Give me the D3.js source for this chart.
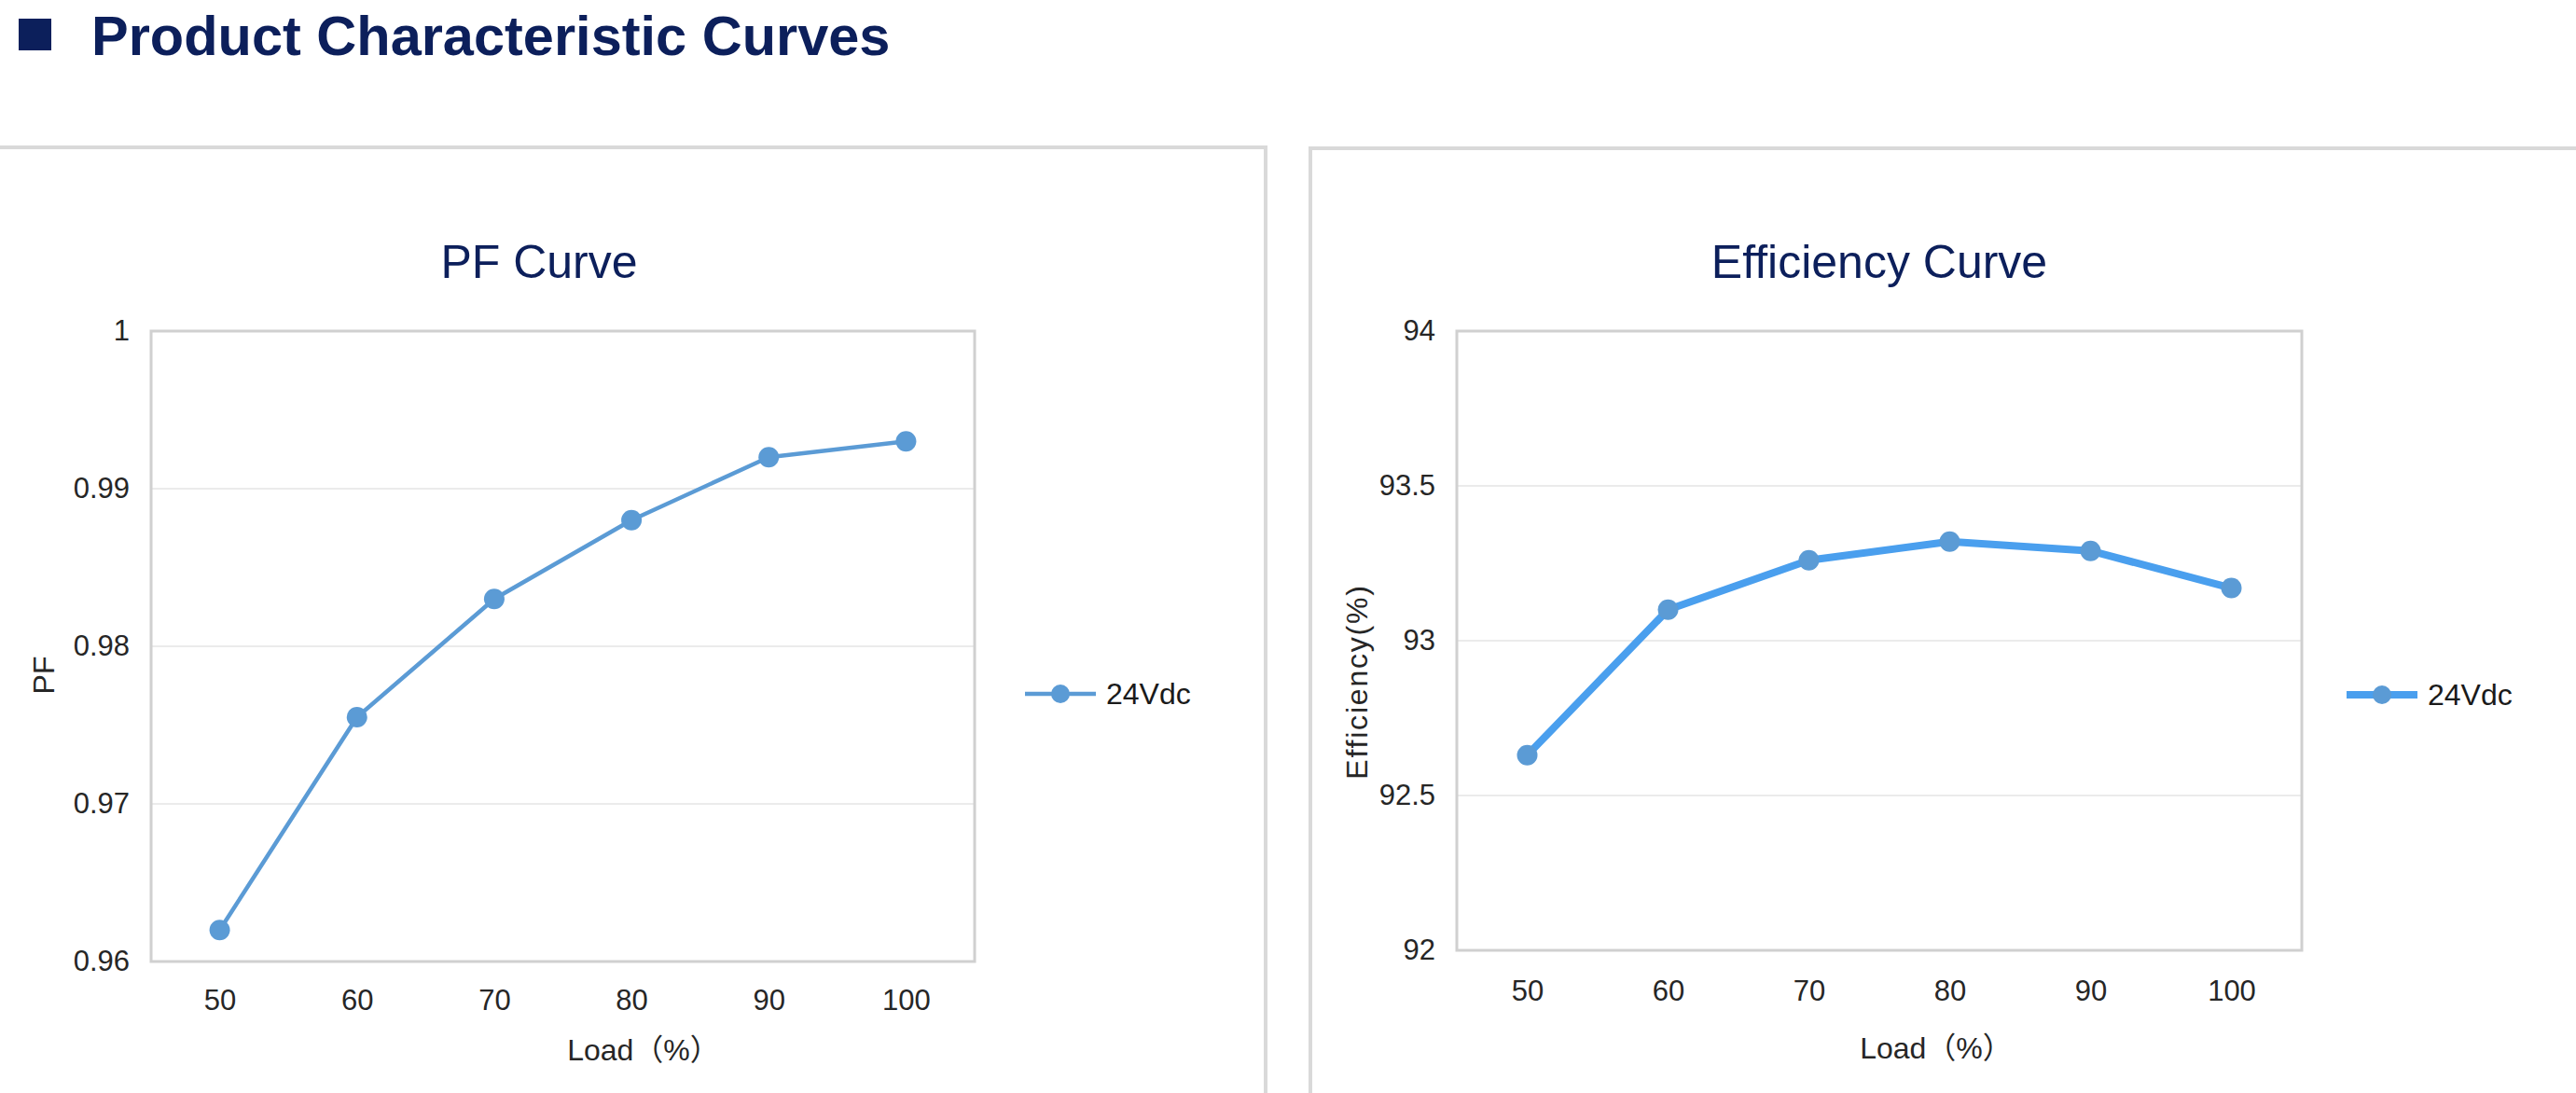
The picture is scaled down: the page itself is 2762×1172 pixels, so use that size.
<!DOCTYPE html>
<html lang="en">
<head>
	<meta charset="UTF-8">
	<title>Product Characteristic Curves</title>
	<script src="https://d3js.org/d3.v7.min.js"></script>
	<style>
		body {
			margin: 0;
			background: #fff;
		}
		svg text {
			font-family: "Liberation Sans", Arial, "Noto Sans CJK SC", sans-serif;
		}
		.panel {
			fill: #fff;
			stroke: #d9d9d9;
			stroke-width: 4px;
		}
		.plot-frame {
			fill: none;
			stroke: #d0d0d0;
			stroke-width: 3px;
		}
		.grid {
			stroke: #ebebeb;
			stroke-width: 2px;
		}
		.tick-label {
			fill: #262626;
		}
		.chart-title {
			fill: #0c1f5b;
			font-size: 50px;
		}
	</style>
</head>
<body>
<svg id="page" width="2762" height="1172"></svg>
<script>
const W = 2762, H = 1172;
const navy = "#0c1f5b";

// chart values
const loads = [50, 60, 70, 80, 90, 100];
const pfValues = [0.962, 0.9755, 0.983, 0.988, 0.992, 0.993];
const effValues = [92.63, 93.10, 93.26, 93.32, 93.29, 93.17];
const pfTicks = [0.96, 0.97, 0.98, 0.99, 1];
const effTicks = [92, 92.5, 93, 93.5, 94];
const seriesName = "24Vdc";
const xTitle = "Load（%）";

const svg = d3.select("#page");

// page heading
svg.append("rect")
	.attr("x", 20).attr("y", 20)
	.attr("width", 35).attr("height", 34)
	.attr("fill", navy);
svg.append("text")
	.attr("x", 98).attr("y", 59)
	.attr("font-size", "59.5px")
	.attr("font-weight", "bold")
	.attr("fill", navy)
	.text("Product Characteristic Curves");

function drawChart(cfg) {
	const g = svg.append("g");

	// panel border
	g.append("rect")
		.attr("class", "panel")
		.attr("x", cfg.panel[0]).attr("y", cfg.panel[1])
		.attr("width", cfg.panel[2]).attr("height", cfg.panel[3]);

	g.append("text")
		.attr("class", "chart-title")
		.attr("x", cfg.titleX).attr("y", 298)
		.attr("text-anchor", "middle")
		.text(cfg.title);

	const x = d3.scalePoint()
		.domain(loads)
		.range([cfg.left, cfg.right])
		.padding(0.5);
	const y = d3.scaleLinear()
		.domain(d3.extent(cfg.ticks))
		.range([cfg.bottom, cfg.top]);

	// gridlines
	g.selectAll(".grid")
		.data(cfg.ticks.slice(1, -1))
		.enter()
		.append("line")
		.attr("class", "grid")
		.attr("x1", cfg.left).attr("x2", cfg.right)
		.attr("y1", d => y(d)).attr("y2", d => y(d));

	g.append("rect")
		.attr("class", "plot-frame")
		.attr("x", cfg.left).attr("y", cfg.top)
		.attr("width", cfg.right - cfg.left)
		.attr("height", cfg.bottom - cfg.top);

	// axes
	const yAxis = g.append("g")
		.attr("transform", `translate(${cfg.left},0)`)
		.call(d3.axisLeft(y).tickValues(cfg.ticks).tickSize(0).tickPadding(23).tickFormat(d => String(d)));
	const xAxis = g.append("g")
		.attr("transform", `translate(0,${cfg.bottom})`)
		.call(d3.axisBottom(x).tickSize(0).tickPadding(cfg.xPad));
	[yAxis, xAxis].forEach(a => {
		a.select(".domain").remove();
		a.attr("font-family", null).attr("font-size", null);
		a.selectAll("text")
			.attr("class", "tick-label")
			.attr("fill", null)
			.style("font-size", "31px");
	});

	// axis titles
	g.append("text")
		.attr("x", cfg.xTitleX).attr("y", cfg.xTitleY)
		.attr("text-anchor", "middle")
		.attr("font-size", "32px")
		.attr("fill", "#262626")
		.text(xTitle);
	g.append("text")
		.attr("transform", `translate(${cfg.yTitleX},${cfg.yTitleY}) rotate(-90)`)
		.attr("text-anchor", "middle")
		.attr("font-size", "32px")
		.attr("letter-spacing", cfg.yTitleSpacing)
		.attr("fill", "#262626")
		.text(cfg.yTitle);

	// series
	const line = d3.line()
		.x((d, i) => x(loads[i]))
		.y(d => y(d));
	g.append("path")
		.datum(cfg.values)
		.attr("fill", "none")
		.attr("stroke", cfg.lineColor)
		.attr("stroke-width", cfg.lineWidth)
		.attr("stroke-linejoin", "round")
		.attr("d", line);
	g.selectAll(".marker")
		.data(cfg.values)
		.enter()
		.append("circle")
		.attr("class", "marker")
		.attr("cx", (d, i) => x(loads[i]))
		.attr("cy", d => y(d))
		.attr("r", 11)
		.attr("fill", "#5b9bd5");

	// legend
	const lg = g.append("g").attr("transform", `translate(${cfg.legendX},${cfg.legendY})`);
	lg.append("line")
		.attr("x1", 0).attr("x2", 76)
		.attr("stroke", cfg.lineColor)
		.attr("stroke-width", cfg.lineWidth);
	lg.append("circle")
		.attr("cx", 38).attr("r", 10)
		.attr("fill", "#5b9bd5");
	lg.append("text")
		.attr("x", 87).attr("y", 11)
		.attr("font-size", "32px")
		.attr("fill", "#1a1a1a")
		.text(seriesName);
}

drawChart({
	panel: [-10, 158, 1367, 1100],
	title: "PF Curve", titleX: 578,
	left: 162, right: 1045, top: 355, bottom: 1031,
	ticks: pfTicks, values: pfValues,
	xPad: 30,
	xTitleX: 690, xTitleY: 1137,
	yTitle: "PF", yTitleX: 58, yTitleY: 724, yTitleSpacing: 0,
	lineColor: "#5b9bd5", lineWidth: 4.5,
	legendX: 1099, legendY: 744
});

drawChart({
	panel: [1405, 159, 1400, 1100],
	title: "Efficiency Curve", titleX: 2015,
	left: 1562, right: 2468, top: 355, bottom: 1019,
	ticks: effTicks, values: effValues,
	xPad: 32,
	xTitleX: 2076, xTitleY: 1135,
	yTitle: "Efficiency(%)", yTitleX: 1466, yTitleY: 731, yTitleSpacing: "1.8px",
	lineColor: "#4a9fee", lineWidth: 8,
	legendX: 2516, legendY: 745
});
</script>
</body>
</html>
